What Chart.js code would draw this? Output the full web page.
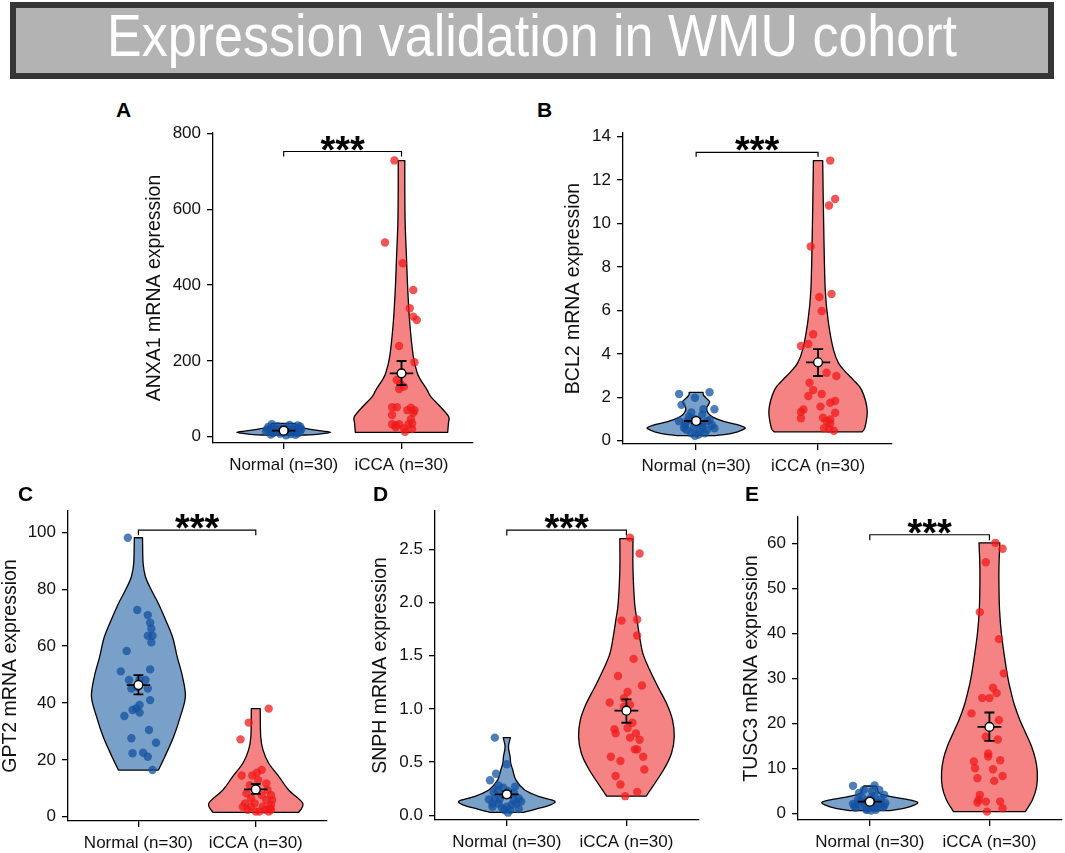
<!DOCTYPE html>
<html><head><meta charset="utf-8">
<script src="https://cdn.jsdelivr.net/npm/chart.js@4.4.1/dist/chart.umd.min.js"></script>
<style>
html,body{margin:0;padding:0;background:#fff;width:1065px;height:853px;overflow:hidden;position:relative;font-family:"Liberation Sans",Arial,sans-serif}
#banner{position:absolute;left:10px;top:2px;width:1044px;height:77px;box-sizing:border-box;border:6px solid #353535;background:#b3b3b3}
#btitle{position:absolute;left:107px;top:6px;white-space:nowrap;color:#fff;font-family:"Liberation Sans Narrow","Arial Narrow","Liberation Sans",Arial,sans-serif;font-size:60px;line-height:60px;transform-origin:0 0}
.lab{position:absolute;font:bold 21px "Liberation Sans",Arial,sans-serif;line-height:21px;color:#000}
canvas{position:absolute}
</style>
</head><body>
<div id="banner"></div>
<div id="btitle">Expression validation in WMU cohort</div>
<script>
// ---------- DATA ----------
const categories = ['Normal (n=30)', 'iCCA (n=30)'];
const panelLetters = ['A','B','C','D','E'];
const yTitles = ['ANXA1 mRNA expression','BCL2 mRNA expression','GPT2 mRNA expression','SNPH mRNA expression','TUSC3 mRNA expression'];
const significance = ['***','***','***','***','***'];

// Panel A
const aTicks = [0,200,400,600,800];
const aTickLabels = ['0','200','400','600','800'];
const aNormalValues = [33,31,30,28,27,26,25,24,23,22,21,20,19,18,17,16,15,14,13,12,11,10,9,8,7,6,5,4,20,14];
const aNormalJitter = [-0.10,0.05,0.12,-0.05,0.14,-0.13,0.02,0.09,-0.08,0.13,-0.02,-0.14,0.07,0.11,-0.10,0.04,-0.06,0.14,-0.12,0.08,0.00,-0.09,0.12,-0.03,0.06,-0.11,0.10,0.02,0.15,-0.15];
const aTumorValues = [728.5,511.9,457.5,387,338.8,316.6,307.9,239.3,196.3,149.6,125.9,132,77.6,77.6,76.5,57.3,63.3,45.9,32.7,32.7,32.7,13.2,22,35,30,70,70,140,25,20];
const aTumorJitter = [-0.06,-0.14,0.01,0.10,0.07,0.10,0.13,-0.02,0.11,-0.04,-0.02,0.02,-0.08,-0.04,0.08,-0.08,0.10,0.08,-0.08,-0.02,0.06,0.03,0.02,0.09,-0.05,0.05,0.11,-0.01,-0.05,0.09];
const aNormalViolinY = [4,7,11.6,16,22,28,35];
const aNormalViolinW = [0.15,0.30,0.40,0.30,0.18,0.12,0.10];
const aTumorViolinY = [11.6,35,53,79,105,123,150,168,212,300,388,475,563,651,728];
const aTumorViolinW = [0.392,0.398,0.40,0.33,0.25,0.218,0.162,0.134,0.10,0.07,0.053,0.042,0.031,0.028,0.028];
const aMeans = [15.8,167];
const aSemLow = [12.5,136];
const aSemHigh = [19,199.6];
const aBracket = [739,752];

// Panel B
const bTicks = [0,2,4,6,8,10,12,14];
const bTickLabels = ['0','2','4','6','8','10','12','14'];
const bNormalValues = [2.15,2.23,1.65,1.98,1.45,1.45,1.3,1.2,0.9,0.88,0.9,0.6,0.6,0.65,0.57,0.34,0.42,0.23,0.8,1.1,0.5,0.5,0.72,0.8,1.0,0.72,0.95,0.34,0.28,0.95];
const bNormalJitter = [-0.14,0.11,-0.12,-0.01,0.15,0.06,-0.04,0.05,-0.14,-0.08,0.09,-0.10,-0.02,0.05,0.15,-0.04,0.03,-0.01,0.01,-0.06,0.09,-0.08,0.13,0.05,-0.01,-0.09,0.11,0.07,0.02,-0.05];
const bTumorValues = [12.9,11.13,10.83,8.94,6.62,6.76,5.97,4.9,4.36,4.45,3.13,2.98,2.67,2.33,2.15,2.06,1.75,1.83,1.57,1.44,1.32,1.29,1.06,0.98,0.9,1.03,0.57,0.46,0.8,0.55];
const bTumorJitter = [0.10,0.14,0.09,-0.06,0.01,0.11,0.03,-0.04,-0.14,-0.08,0.07,0.15,-0.07,-0.04,0.03,-0.08,0.10,0.14,0.02,-0.12,-0.14,0.14,0.04,0.10,0.07,-0.14,0.05,0.13,0.10,0.09];
const bNormalViolinY = [0.23,0.35,0.5,0.6,0.75,0.9,1.05,1.2,1.35,1.5,1.65,1.8,1.95,2.1,2.23];
const bNormalViolinW = [0.16,0.30,0.38,0.40,0.33,0.22,0.15,0.11,0.09,0.085,0.10,0.11,0.085,0.06,0.057];
const bTumorViolinY = [0.41,0.6,1.41,2.34,2.8,3.11,3.57,4.18,5.41,6.94,10.0,12.9];
const bTumorViolinW = [0.36,0.384,0.403,0.357,0.289,0.235,0.168,0.127,0.086,0.059,0.046,0.038];
const bMeans = [0.907,3.61];
const bSemLow = [0.80,2.98];
const bSemHigh = [1.01,4.22];
const bBracket = [13.08,13.28];

// Panel C
const cTicks = [0,20,40,60,80,100];
const cTickLabels = ['0','20','40','60','80','100'];
const cNormalValues = [98.1,72.7,70.9,68.2,66.1,63.6,63.6,61.3,58.3,51.8,51.1,48.1,48.3,48.1,45.1,45.1,41,39.3,38.1,37.5,35.4,36.6,30.5,27.6,26,22.3,22.5,21.1,16.4,45.5];
const cNormalJitter = [-0.09,-0.01,0.08,0.10,0.11,0.08,0.12,0.11,-0.10,0.10,-0.15,-0.08,0.01,0.06,0.08,-0.06,0.10,0.01,-0.02,-0.05,-0.12,0.01,0.09,-0.06,0.15,-0.05,0.04,0.08,0.12,-0.01];
const cTumorValues = [38,33.1,27.2,16.4,14.5,14.5,11.7,11.1,12.9,9.4,8.2,7.6,3.5,3.5,3.5,4.1,5.9,1.8,1.8,1.8,4.7,2.4,2.4,6.5,7.6,2.4,4.7,5.9,3,15.5];
const cTumorJitter = [0.11,-0.06,-0.13,0.05,-0.12,-0.03,0.09,-0.05,0.02,0.10,-0.08,0.13,-0.11,-0.04,0.06,0.13,0.14,0.00,0.03,0.11,-0.01,0.08,-0.07,-0.04,0.05,0.13,-0.09,0.09,0.12,0.01];
const cNormalViolinY = [16.4,21.1,28.1,35.2,42.2,49.2,56.3,63.3,70.3,75,79.7,84.4,89.1,98.1];
const cNormalViolinW = [0.17,0.225,0.30,0.357,0.40,0.376,0.33,0.29,0.22,0.17,0.11,0.06,0.04,0.035];
const cTumorViolinY = [1.5,4.7,9.4,14.1,18.8,23.4,28.1,38];
const cTumorViolinW = [0.365,0.40,0.28,0.197,0.11,0.062,0.042,0.038];
const cMeans = [46.3,9.6];
const cSemLow = [43.0,8.0];
const cSemHigh = [49.8,11.5];
const cBracket = [99,100.8];

// Panel D
const dTicks = [0,0.5,1,1.5,2,2.5];
const dTickLabels = ['0.0','0.5','1.0','1.5','2.0','2.5'];
const dNormalValues = [0.73,0.48,0.39,0.33,0.28,0.26,0.23,0.21,0.22,0.16,0.15,0.11,0.11,0.10,0.08,0.07,0.05,0.025,0.11,0.16,0.19,0.14,0.13,0.08,0.06,0.15,0.19,0.27,0.05,0.24];
const dNormalJitter = [-0.10,0.00,-0.09,-0.14,-0.07,-0.03,0.01,0.06,-0.11,0.10,-0.15,-0.12,-0.07,0.04,0.00,-0.04,0.03,0.01,0.08,-0.10,-0.03,0.06,0.12,-0.12,0.10,-0.06,0.00,0.07,-0.02,-0.08];
const dTumorValues = [2.61,2.46,1.83,1.84,1.69,1.47,1.31,1.22,1.16,1.06,1.04,1.02,0.81,0.82,0.77,0.77,0.73,0.71,0.62,0.62,0.55,0.55,0.51,0.43,0.37,0.29,0.22,0.18,0.87,1.1];
const dTumorJitter = [0.03,0.11,-0.04,0.09,0.09,0.06,-0.07,0.13,0.01,-0.14,0.03,-0.02,-0.10,0.01,-0.09,0.08,0.03,0.11,0.07,0.09,-0.13,0.14,-0.05,0.15,-0.09,-0.05,0.09,-0.01,0.05,-0.02];
const dNormalViolinY = [0.028,0.06,0.096,0.134,0.175,0.238,0.33,0.426,0.49,0.55,0.645,0.73];
const dNormalViolinW = [0.14,0.25,0.36,0.40,0.275,0.15,0.077,0.05,0.033,0.028,0.014,0.03];
const dTumorViolinY = [0.18,0.426,0.583,0.74,0.897,1.05,1.21,1.37,1.52,1.68,1.84,1.99,2.31,2.6];
const dTumorViolinW = [0.165,0.31,0.377,0.40,0.385,0.336,0.262,0.193,0.138,0.11,0.088,0.069,0.055,0.055];
const dMeans = [0.197,0.983];
const dSemLow = [0.17,0.87];
const dSemHigh = [0.225,1.09];
const dBracket = [2.63,2.68];

// Panel E
const eTicks = [0,10,20,30,40,50,60];
const eTickLabels = ['0','10','20','30','40','50','60'];
const eNormalValues = [6.1,6.2,4.1,3.4,3.0,3.0,2.3,2.3,2.1,2.3,1.6,1.2,0.9,1.6,1.2,1.4,0.8,0.8,3.4,4.9,5.2,4.5,2.7,1.6,1.6,5.2,3.8,2.3,2.7,0.6];
const eNormalJitter = [-0.14,0.04,0.12,0.01,-0.10,0.09,-0.05,0.04,-0.14,0.13,-0.08,0.06,-0.02,0.01,-0.12,0.11,-0.03,0.05,-0.06,0.02,0.08,-0.09,-0.01,0.12,-0.13,-0.05,0.04,0.09,-0.08,0.01];
const eTumorValues = [60.1,58.8,55.8,44.7,38.7,31.1,27.9,26.7,25.6,25.6,22.2,20.7,16.4,17.0,13.3,12.6,11.5,11.8,10.0,9.8,8.3,7.8,7.2,4.1,3.0,2.6,2.4,2.6,1.1,0.37];
const eTumorJitter = [0.05,0.11,-0.03,-0.08,0.08,0.12,0.03,0.06,-0.06,0.00,-0.15,0.08,0.07,-0.03,-0.01,-0.01,-0.13,0.09,-0.12,0.03,0.11,-0.10,0.04,-0.08,-0.09,-0.03,-0.10,0.09,0.11,-0.02];
const eNormalViolinY = [0.58,1.2,1.8,2.44,3.0,3.6,4.2,4.8,5.4,6.07];
const eNormalViolinW = [0.17,0.30,0.37,0.40,0.33,0.20,0.10,0.07,0.065,0.05];
const eTumorViolinY = [0.37,3,6,9.2,12,15,18,21,24,27,30,35,40,45,50,55,60.1];
const eTumorViolinW = [0.30,0.36,0.395,0.40,0.385,0.35,0.30,0.25,0.21,0.18,0.155,0.125,0.10,0.085,0.08,0.08,0.087];
const eMeans = [2.58,19.2];
const eSemLow = [2.2,16.1];
const eSemHigh = [2.95,22.4];
const eBracket = [60.7,61.9];

// ---------- LAYOUT / STYLE ----------
const FONT = '"Liberation Sans", Arial, Helvetica, sans-serif';
const Y_TITLE_SIZE = 19.5;
const TOP_PAD = 30;
const boxes = [
  {L:213,T:133,R:474,B:443,titleX:155,yMin:-16.6,yMax:800.8,lx:116,ly:99},
  {L:623,T:133,R:893,B:444,titleX:574,yMin:-0.152,yMax:14.17,lx:537,ly:99},
  {L:68,T:511,R:328,B:821,titleX:10.5,yMin:-1.51,yMax:107.5,lx:18,ly:483},
  {L:435,T:511,R:700,B:820,titleX:380.5,yMin:-0.044,yMax:2.86,lx:373,ly:483},
  {L:798,T:517,R:1063,B:820,titleX:751.5,yMin:-1.49,yMax:65.84,lx:745,ly:483}
];
const COLORS = {
  normalViolin:'rgb(121,160,201)', tumorViolin:'rgb(246,131,131)',
  normalPoint:'rgba(20,82,160,0.75)', tumorPoint:'rgba(240,25,25,0.75)'
};

const panels = [
  {ticks:aTicks,tickLabels:aTickLabels,nv:aNormalValues,nj:aNormalJitter,tv:aTumorValues,tj:aTumorJitter,nvy:aNormalViolinY,nvw:aNormalViolinW,tvy:aTumorViolinY,tvw:aTumorViolinW,means:aMeans,lo:aSemLow,hi:aSemHigh,bracket:aBracket},
  {ticks:bTicks,tickLabels:bTickLabels,nv:bNormalValues,nj:bNormalJitter,tv:bTumorValues,tj:bTumorJitter,nvy:bNormalViolinY,nvw:bNormalViolinW,tvy:bTumorViolinY,tvw:bTumorViolinW,means:bMeans,lo:bSemLow,hi:bSemHigh,bracket:bBracket},
  {ticks:cTicks,tickLabels:cTickLabels,nv:cNormalValues,nj:cNormalJitter,tv:cTumorValues,tj:cTumorJitter,nvy:cNormalViolinY,nvw:cNormalViolinW,tvy:cTumorViolinY,tvw:cTumorViolinW,means:cMeans,lo:cSemLow,hi:cSemHigh,bracket:cBracket},
  {ticks:dTicks,tickLabels:dTickLabels,nv:dNormalValues,nj:dNormalJitter,tv:dTumorValues,tj:dTumorJitter,nvy:dNormalViolinY,nvw:dNormalViolinW,tvy:dTumorViolinY,tvw:dTumorViolinW,means:dMeans,lo:dSemLow,hi:dSemHigh,bracket:dBracket},
  {ticks:eTicks,tickLabels:eTickLabels,nv:eNormalValues,nj:eNormalJitter,tv:eTumorValues,tj:eTumorJitter,nvy:eNormalViolinY,nvw:eNormalViolinW,tvy:eTumorViolinY,tvw:eTumorViolinW,means:eMeans,lo:eSemLow,hi:eSemHigh,bracket:eBracket}
];

// ---------- DRAWING ----------
function smoothSide(ctx, pts) {
  ctx.lineTo(pts[0][0], pts[0][1]);
  for (let i = 0; i < pts.length - 1; i++) {
    const p0 = pts[Math.max(0, i - 1)], p1 = pts[i], p2 = pts[i + 1], p3 = pts[Math.min(pts.length - 1, i + 2)];
    ctx.bezierCurveTo(p1[0] + (p2[0] - p0[0]) / 6, p1[1] + (p2[1] - p0[1]) / 6,
                      p2[0] - (p3[0] - p1[0]) / 6, p2[1] - (p3[1] - p1[1]) / 6,
                      p2[0], p2[1]);
  }
}
function drawViolin(chart, center, ys, ws, fill) {
  const {ctx, scales: {x, y}} = chart;
  const right = ys.map((v, i) => [x.getPixelForValue(center + ws[i]), y.getPixelForValue(v)]);
  const left = ys.map((v, i) => [x.getPixelForValue(center - ws[i]), y.getPixelForValue(v)]).reverse();
  ctx.save();
  ctx.beginPath();
  ctx.moveTo(right[0][0], right[0][1]);
  smoothSide(ctx, right);
  smoothSide(ctx, left);
  ctx.closePath();
  ctx.fillStyle = fill;
  ctx.fill();
  ctx.lineWidth = 1.3;
  ctx.lineJoin = 'round';
  ctx.strokeStyle = '#000';
  ctx.stroke();
  ctx.restore();
}

function buildPanel(i) {
  const p = panels[i], b = boxes[i];
  const cLeft = Math.max(0, Math.round(b.titleX - Y_TITLE_SIZE / 2));
  const cTop = b.T - TOP_PAD;
  const cW = b.R + 4 - cLeft;
  const cH = b.B + 40 - cTop;
  const cv = document.createElement('canvas');
  cv.width = cW; cv.height = cH;
  cv.style.left = cLeft + 'px'; cv.style.top = cTop + 'px';
  cv.style.width = cW + 'px'; cv.style.height = cH + 'px';
  document.body.appendChild(cv);
  const yAxisW = b.L - cLeft;

  const lab = document.createElement('div');
  lab.className = 'lab';
  lab.style.left = b.lx + 'px'; lab.style.top = b.ly + 'px';
  lab.textContent = panelLetters[i];
  document.body.appendChild(lab);

  const toPts = (vals, jit, c) => vals.map((v, k) => ({x: c + jit[k], y: v}));
  const gap = {x: null, y: null};
  const err = [];
  for (let k = 0; k < 2; k++) {
    const c = k + 1;
    err.push({x: c - 0.1, y: p.means[k]}, {x: c + 0.1, y: p.means[k]}, gap,
             {x: c, y: p.lo[k]}, {x: c, y: p.hi[k]}, gap,
             {x: c - 0.042, y: p.lo[k]}, {x: c + 0.042, y: p.lo[k]}, gap,
             {x: c - 0.042, y: p.hi[k]}, {x: c + 0.042, y: p.hi[k]}, gap);
  }
  const bracket = [{x: 1, y: p.bracket[0]}, {x: 1, y: p.bracket[1]}, {x: 2, y: p.bracket[1]}, {x: 2, y: p.bracket[0]}];

  const tickFont = {size: 17, family: FONT};
  const gridOpts = {display: true, drawOnChartArea: false, drawTicks: true, tickLength: 6, color: '#000', lineWidth: 1.3};
  const borderOpts = {display: true, color: '#000', width: 1.3};

  new Chart(cv, {
    type: 'scatter',
    data: {datasets: [
      {label: 'mean', data: [{x: 1, y: p.means[0]}, {x: 2, y: p.means[1]}], pointRadius: 4.4, pointHoverRadius: 4.4,
       backgroundColor: '#fff', borderColor: '#000', borderWidth: 1.4, order: 0},
      {label: 'sem', data: err, showLine: true, pointRadius: 0, borderColor: '#000', borderWidth: 1.8, spanGaps: false, tension: 0, order: 1},
      {label: 'bracket', data: bracket, showLine: true, pointRadius: 0, borderColor: '#000', borderWidth: 1.2, tension: 0, order: 2},
      {label: categories[0], data: toPts(p.nv, p.nj, 1), pointRadius: 4.2, pointHoverRadius: 4.2, backgroundColor: COLORS.normalPoint, borderWidth: 0, order: 3},
      {label: categories[1], data: toPts(p.tv, p.tj, 2), pointRadius: 4.2, pointHoverRadius: 4.2, backgroundColor: COLORS.tumorPoint, borderWidth: 0, order: 3}
    ]},
    options: {
      responsive: false, animation: false, devicePixelRatio: 1,
      layout: {padding: {top: TOP_PAD, right: 4, left: 0, bottom: 0}},
      plugins: {legend: {display: false}, tooltip: {enabled: false}},
      events: [],
      scales: {
        x: {type: 'linear', min: 0.4, max: 2.6,
            afterBuildTicks: s => { s.ticks = [{value: 1}, {value: 2}]; },
            afterFit: s => { s.height = 40; },
            ticks: {callback: (v, idx) => categories[idx], font: tickFont, color: '#111', padding: 6, autoSkip: false, maxRotation: 0},
            grid: gridOpts, border: borderOpts},
        y: {type: 'linear', min: b.yMin, max: b.yMax,
            afterBuildTicks: s => { s.ticks = p.ticks.map(v => ({value: v})); },
            afterFit: s => { s.width = yAxisW; },
            ticks: {callback: (v, idx) => p.tickLabels[idx], font: tickFont, color: '#111', padding: 6, autoSkip: false},
            title: {display: true, text: yTitles[i], font: {size: Y_TITLE_SIZE, family: FONT, lineHeight: 1}, color: '#111', padding: 0},
            grid: gridOpts, border: borderOpts}
      }
    },
    plugins: [{
      id: 'violins' + i,
      beforeDatasetsDraw(chart) {
        drawViolin(chart, 1, p.nvy, p.nvw, COLORS.normalViolin);
        drawViolin(chart, 2, p.tvy, p.tvw, COLORS.tumorViolin);
      },
      afterDatasetsDraw(chart) {
        const {ctx, scales: {x, y}} = chart;
        ctx.save();
        ctx.font = 'bold 38px ' + FONT;
        ctx.fillStyle = '#000';
        ctx.textAlign = 'center';
        ctx.textBaseline = 'alphabetic';
        ctx.fillText(significance[i], x.getPixelForValue(1.5), y.getPixelForValue(p.bracket[1]) + 11);
        ctx.restore();
      }
    }]
  });
}

for (let i = 0; i < panels.length; i++) buildPanel(i);

// fit banner title width
const bt = document.getElementById('btitle');
const w = bt.getBoundingClientRect().width;
bt.style.transform = 'scaleX(' + (850 / w) + ')';
</script>
</body></html>
